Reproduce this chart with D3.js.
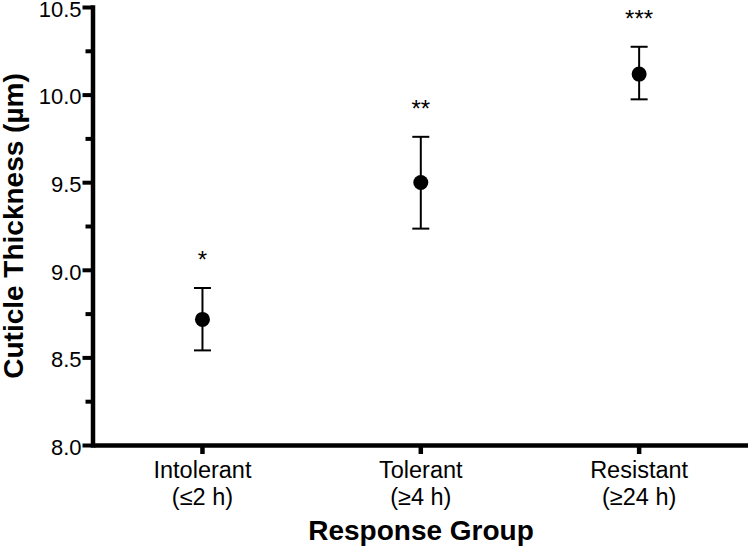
<!DOCTYPE html>
<html>
<head>
<meta charset="utf-8">
<script src="https://cdn.jsdelivr.net/npm/d3@7"></script>
<style>
  html, body { margin: 0; padding: 0; background: #fff; }
  svg { display: block; font-family: "Liberation Sans", Arial, Helvetica, sans-serif; }
</style>
</head>
<body>
<svg id="chart" width="748" height="547"></svg>
<script>
// ---- data ----
const categories = ["Intolerant", "Tolerant", "Resistant"];
const subLabels = ["(≤2 h)", "(≥4 h)", "(≥24 h)"];
const means = [8.717, 9.498, 10.117];
const lower = [8.540, 9.235, 9.973];
const upper = [8.896, 9.759, 10.273];
const stars = ["*", "**", "***"];
const yMajorTicks = [8.0, 8.5, 9.0, 9.5, 10.0, 10.5];
const yMinorTicks = [8.25, 8.75, 9.25, 9.75, 10.25];
const yTitle = "Cuticle Thickness (µm)";
const xTitle = "Response Group";

const svg = d3.select("#chart");

const x = d3.scaleBand().domain(categories).range([93.3, 748.3]).padding(0);
const y = d3.scaleLinear().domain([8, 10.5]).range([445, 7]);

const axisStroke = 4.5;

// minor y ticks
const yMinor = svg.append("g").attr("transform", "translate(92.5,0)")
  .call(d3.axisLeft(y).tickValues(yMinorTicks).tickSize(7).tickSizeOuter(0).tickFormat(""));
yMinor.select(".domain").remove();
yMinor.selectAll(".tick line").attr("stroke", "#000").attr("stroke-width", 4);

// major y axis
const yAx = svg.append("g").attr("transform", "translate(92.5,0)")
  .call(d3.axisLeft(y).tickValues(yMajorTicks).tickSize(10).tickSizeOuter(0).tickPadding(1)
        .tickFormat(d3.format(".1f")));
yAx.select(".domain").attr("stroke", "#000").attr("stroke-width", axisStroke).attr("stroke-linecap", "square");
yAx.selectAll(".tick line").attr("stroke", "#000").attr("stroke-width", 4);
yAx.selectAll(".tick text").attr("font-size", 22).attr("fill", "#000").attr("dy", "0.42em")
  .attr("font-family", "Liberation Sans, Arial, sans-serif");

// x axis
const xAx = svg.append("g").attr("transform", `translate(0,${y(8)})`)
  .call(d3.axisBottom(x).tickSize(9).tickSizeOuter(0).tickFormat(""));
xAx.select(".domain").attr("stroke", "#000").attr("stroke-width", axisStroke);
xAx.selectAll(".tick line").attr("stroke", "#000").attr("stroke-width", 4.5);

// category labels (two lines)
const catG = svg.append("g");
categories.forEach((c, i) => {
  const cx = x(c) + x.bandwidth() / 2;
  const t = catG.append("text")
    .attr("x", cx).attr("y", 478)
    .attr("text-anchor", "middle")
    .attr("font-size", 23.5).attr("fill", "#000");
  t.append("tspan").attr("x", cx).attr("y", 478).text(c);
  t.append("tspan").attr("x", cx).attr("y", 505).text(subLabels[i]);
});

// error bars
const capHalf = 8.5;
const eg = svg.append("g");
categories.forEach((c, i) => {
  const cx = x(c) + x.bandwidth() / 2;
  eg.append("line").attr("x1", cx).attr("x2", cx)
    .attr("y1", y(lower[i])).attr("y2", y(upper[i]))
    .attr("stroke", "#000").attr("stroke-width", 2);
  [lower[i], upper[i]].forEach(v => {
    eg.append("line").attr("x1", cx - capHalf).attr("x2", cx + capHalf)
      .attr("y1", y(v)).attr("y2", y(v))
      .attr("stroke", "#000").attr("stroke-width", 2);
  });
  eg.append("circle").attr("cx", cx).attr("cy", y(means[i])).attr("r", 7.5).attr("fill", "#000");
  eg.append("text").attr("x", cx).attr("y", y(upper[i]) - 20)
    .attr("text-anchor", "middle").attr("font-size", 24).attr("fill", "#000")
    .text(stars[i]);
});

// axis titles
svg.append("text")
  .attr("transform", `translate(23,${(y(8) + y(10.5)) / 2}) rotate(-90)`)
  .attr("text-anchor", "middle")
  .attr("font-size", 28).attr("font-weight", "bold").attr("fill", "#000")
  .text(yTitle);

svg.append("text")
  .attr("x", 421).attr("y", 540)
  .attr("text-anchor", "middle")
  .attr("font-size", 28).attr("font-weight", "bold").attr("fill", "#000")
  .text(xTitle);
</script>
</body>
</html>
